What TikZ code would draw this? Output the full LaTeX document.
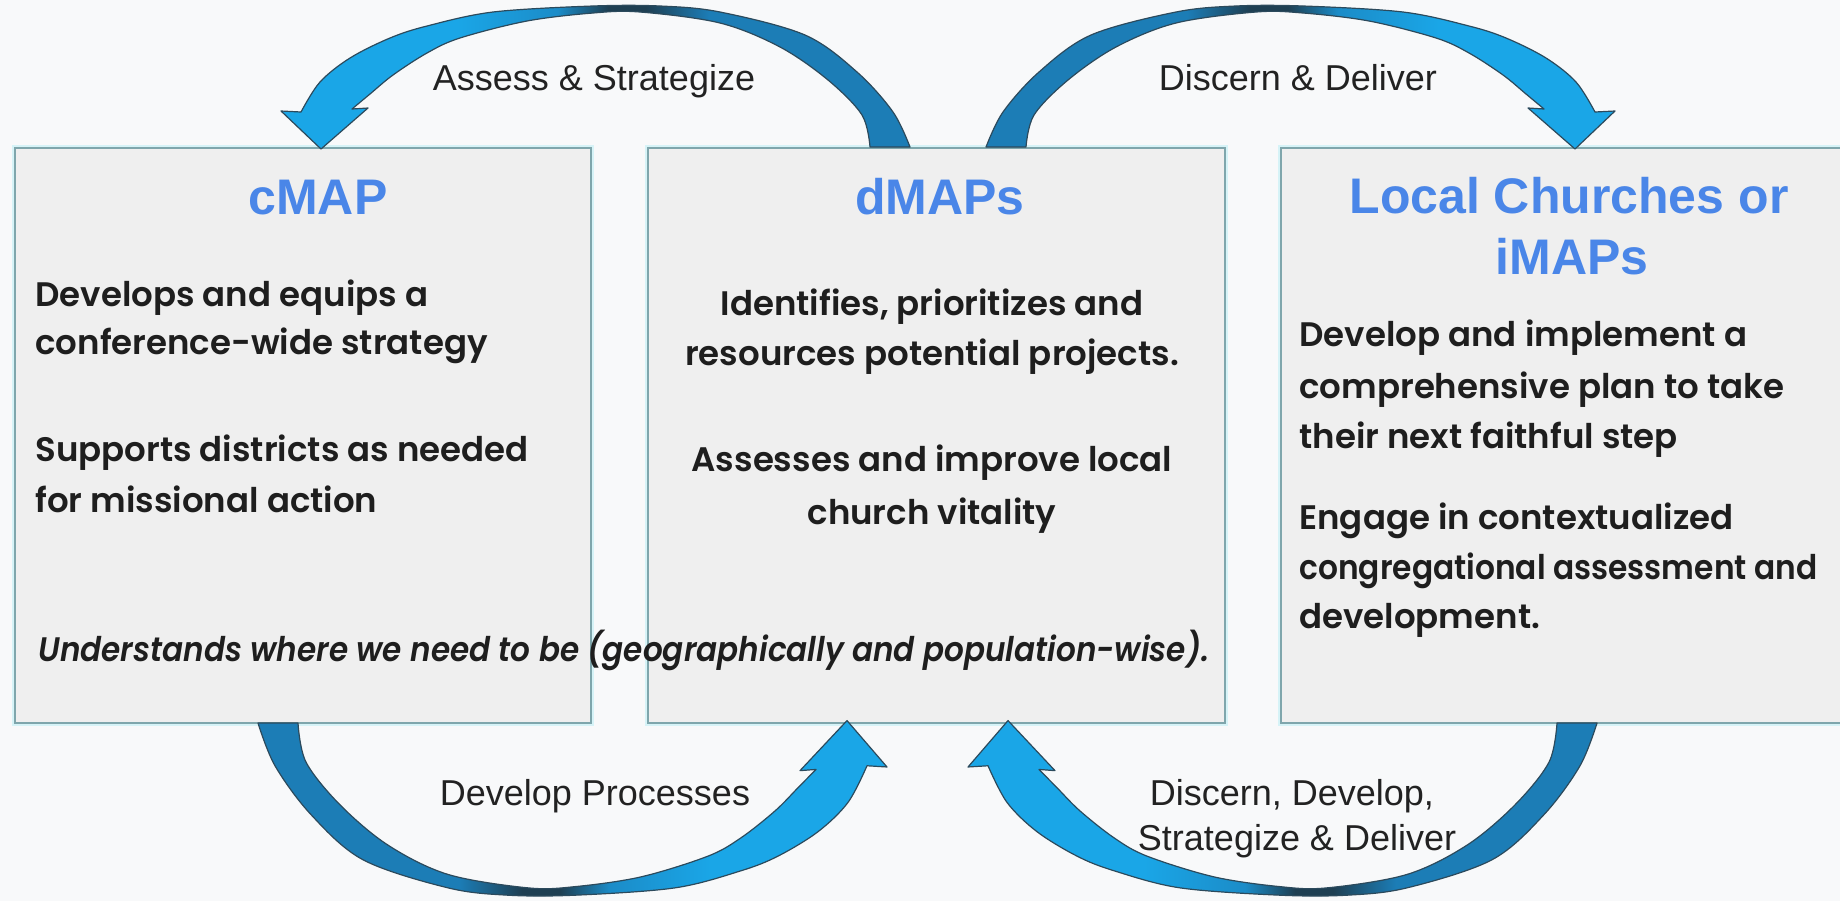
\documentclass[tikz,border=0pt]{standalone}
\usepackage{fontspec}
\setmainfont{Poppins}[BoldFont={* SemiBold},BoldItalicFont={* SemiBold Italic}]
\newfontfamily\arialf{Liberation Sans}
\newfontfamily\popit{Poppins}[UprightFont={* SemiBold Italic},FakeStretch=0.915]
\newfontfamily\popnarrow{Poppins}[UprightFont={* SemiBold},FakeStretch=0.92]
\definecolor{bgc}{HTML}{F8F9FA}
\definecolor{boxfill}{HTML}{EFEFEF}
\definecolor{boxline}{HTML}{7FA6AC}
\definecolor{boxhalo}{HTML}{D6F3F7}
\definecolor{titleblue}{HTML}{4A86E8}
\definecolor{bodytext}{HTML}{1E1E1E}
\definecolor{lbltext}{HTML}{222222}
\definecolor{arrbright}{HTML}{1AA6E7}
\definecolor{arrmid}{HTML}{1B8CC8}
\definecolor{arrtail}{HTML}{1C7DB6}
\definecolor{arrdark}{HTML}{1E3F52}
\definecolor{arrline}{HTML}{2C4A5C}
\pgfdeclarehorizontalshading{headleft}{100bp}{color(0bp)=(arrbright); color(25bp)=(arrbright); color(39bp)=(arrbright); color(47bp)=(arrmid); color(51bp)=(arrdark); color(54bp)=(arrdark); color(59bp)=(arrtail); color(75bp)=(arrtail); color(100bp)=(arrtail)}
\pgfdeclarehorizontalshading{headright}{100bp}{color(0bp)=(arrtail); color(25bp)=(arrtail); color(41bp)=(arrtail); color(46bp)=(arrdark); color(49bp)=(arrdark); color(53bp)=(arrmid); color(61bp)=(arrbright); color(75bp)=(arrbright); color(100bp)=(arrbright)}
\newcommand\ribbonpath{(321,149) -- (281,111) -- (301,112) -- plot[smooth,tension=0.55] coordinates {(301,112) (320,82) (350,58) (390,38) (427,26) (493,12) (593,6) (660,6) (720,12) (805,35) (857,72) (893,112) (910,147)} -- (870,147) -- plot[smooth,tension=0.55] coordinates {(870,147) (862,115) (828,80) (780,47) (720,23) (640,12) (593,13) (527,21) (460,38) (427,53) (393,75) (370,94) (352,109)} -- (368,108) -- cycle}
\tikzset{
  mapbox/.style={draw=boxline, line width=1pt, fill=boxfill, inner sep=0pt,
    preaction={draw=boxhalo, line width=3pt}},
  ribbon/.style={draw=arrline, line width=0.6pt, line join=round},
  ttl/.style={font=\arialf\bfseries\fontsize{25}{30}\selectfont, text=titleblue, inner sep=0pt},
  lbl/.style={font=\arialf\fontsize{18}{22}\selectfont, text=lbltext, inner sep=0pt},
  body/.style={font=\bfseries\fontsize{17}{20}\selectfont, text=bodytext, inner sep=0pt},
  bodynarrow/.style={font=\popnarrow\fontsize{17}{20}\selectfont, text=bodytext, inner sep=0pt},
  bodyit/.style={font=\popit\fontsize{17}{20}\selectfont, text=bodytext, inner sep=0pt}
}
\begin{document}
\begin{tikzpicture}[x=0.5pt,y=-0.5pt]
\useasboundingbox (0,0) rectangle (1840,901);
\fill[bgc] (0,0) rectangle (1840,901);

% boxes
\node[mapbox, minimum width=288pt, minimum height=287.5pt] (cmap) at (303,435.5) {};
\node[mapbox, minimum width=288.5pt, minimum height=287.5pt] (dmap) at (936.5,435.5) {};
\node[mapbox, minimum width=300pt, minimum height=287.5pt, anchor=west] (imap) at (1280,435.5) {};

% arrows
\begin{scope}
  \path[ribbon, shading=headleft] \ribbonpath;
\end{scope}
\begin{scope}[shift={(1896,0)}, xscale=-1]
  \path[ribbon, shading=headright] \ribbonpath;
\end{scope}
\begin{scope}[shift={(1168,902.5)}, xscale=-1, yscale=-1.221]
  \path[ribbon, shading=headright] \ribbonpath;
\end{scope}
\begin{scope}[shift={(687,902.5)}, yscale=-1.221]
  \path[ribbon, shading=headleft] \ribbonpath;
\end{scope}

% arrow labels
\node[lbl, anchor=base] (lblA) at (594,90) {Assess \& Strategize};
\node[lbl, anchor=base] (lblB) at (1298,90) {Discern \& Deliver};
\node[lbl, anchor=base] (lblC) at (595,805) {Develop Processes};
\node[lbl, anchor=base] (lblD1) at (1292,805) {Discern, Develop,};
\node[lbl, anchor=base] (lblD2) at (1297,850) {Strategize \& Deliver};

% titles
\node[ttl, anchor=base] (t1) at (318,214) {cMAP};
\node[ttl, anchor=base] (t2) at (940,214) {dMAPs};
\node[ttl, anchor=base] (t3a) at (1569,213) {Local Churches or};
\node[ttl, anchor=base] (t3b) at (1572,274) {iMAPs};

% box 1 text
\node[body, anchor=base west] (c1) at (35,306) {Develops and equips a};
\node[body, anchor=base west] (c2) at (35,354) {conference-wide strategy};
\node[body, anchor=base west] (c3) at (35,461) {Supports districts as needed};
\node[body, anchor=base west] (c4) at (35,512) {for missional action};
\node[bodyit, anchor=base west] (c5) at (38,661) {Understands where we need to be (geographically and population-wise).};

% box 2 text
\node[body, anchor=base] (d1) at (932,315) {Identifies, prioritizes and};
\node[body, anchor=base] (d2) at (932,365) {resources potential projects.};
\node[body, anchor=base] (d3) at (932,471) {Assesses and improve local};
\node[body, anchor=base] (d4) at (932,524) {church vitality};

% box 3 text
\node[body, anchor=base west] (i1) at (1299,346) {Develop and implement a};
\node[body, anchor=base west] (i2) at (1299,398) {comprehensive plan to take};
\node[body, anchor=base west] (i3) at (1299,448) {their next faithful step};
\node[body, anchor=base west] (i4) at (1299,529) {Engage in contextualized};
\node[bodynarrow, anchor=base west] (i5) at (1299,579) {congregational assessment and};
\node[body, anchor=base west] (i6) at (1299,628) {development.};
\end{tikzpicture}
\end{document}
